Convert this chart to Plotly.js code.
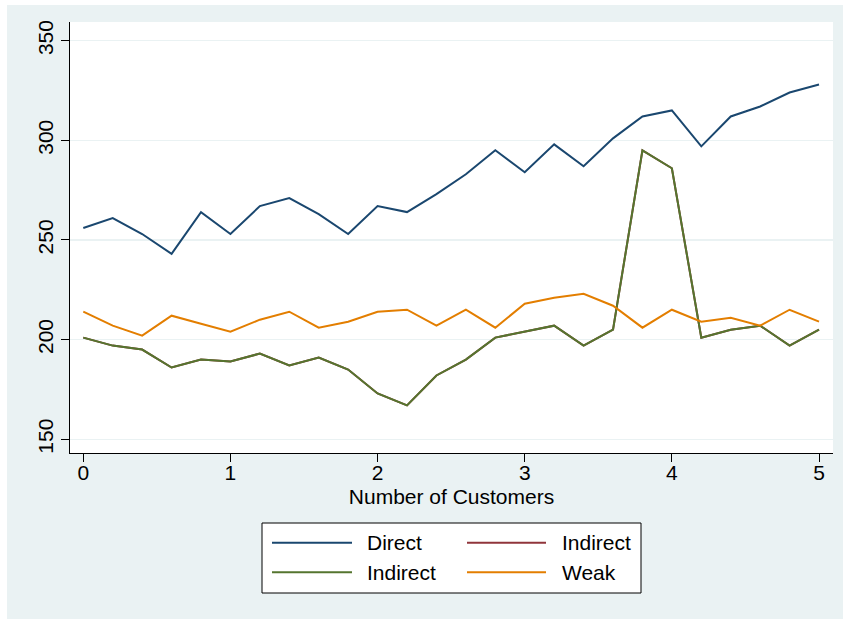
<!DOCTYPE html>
<html>
<head>
<meta charset="utf-8">
<script src="https://cdn.plot.ly/plotly-3.0.1.min.js"></script>
<style>html,body{margin:0;padding:0;background:#fff;}#chart{width:843px;height:619px;}</style>
</head>
<body>
<div id="chart"></div>
<script>
// ---- data ----
var customers = [0, 0.2, 0.4, 0.6, 0.8, 1.0, 1.2, 1.4, 1.6, 1.8, 2.0, 2.2, 2.4, 2.6, 2.8, 3.0, 3.2, 3.4, 3.6, 3.8, 4.0, 4.2, 4.4, 4.6, 4.8, 5.0];
var direct   = [256, 261, 253, 243, 264, 253, 267, 271, 263, 253, 267, 264, 273, 283, 295, 284, 298, 287, 301, 312, 315, 297, 312, 317, 324, 328];
var indirectA = [201, 197, 195, 186, 190, 189, 193, 187, 191, 185, 173, 167, 182, 190, 201, 204, 207, 197, 205, 295, 286, 201, 205, 207, 197, 205];
var indirectB = [201, 197, 195, 186, 190, 189, 193, 187, 191, 185, 173, 167, 182, 190, 201, 204, 207, 197, 205, 295, 286, 201, 205, 207, 197, 205];
var weak     = [214, 207, 202, 212, 208, 204, 210, 214, 206, 209, 214, 215, 207, 215, 206, 218, 221, 223, 217, 206, 215, 209, 211, 207, 215, 209];
var seriesNames = ["Direct", "Indirect", "Indirect", "Weak"];
var seriesColors = ["#1a476f", "#90353b", "#55752f", "#e37e00"];
var xTicks = [0, 1, 2, 3, 4, 5];
var yTicks = [150, 200, 250, 300, 350];

var FONT = "Liberation Sans, Arial, Helvetica, sans-serif";
var seriesData = [direct, indirectA, indirectB, weak];

var traces = seriesData.map(function (ys, i) {
  return {
    x: customers, y: ys, type: "scatter", mode: "lines", name: seriesNames[i],
    line: {color: seriesColors[i], width: 2}
  };
});

// plot area in pixels: left 70, right 833, top 22, bottom 453
var L = 70, R = 833, T = 22, B = 453, W = R - L, H = B - T;
function px(x) { return (x - L) / W; }
function py(y) { return (B - y) / H; }

var shapes = [
  // white strips outside the light background
  {type: "rect", xref: "paper", yref: "paper", x0: px(0), x1: px(843), y0: py(5), y1: py(0), fillcolor: "#ffffff", line: {width: 0}, layer: "below"},
  {type: "rect", xref: "paper", yref: "paper", x0: px(0), x1: px(7), y0: py(619), y1: py(0), fillcolor: "#ffffff", line: {width: 0}, layer: "below"},
  // legend box
  {type: "rect", xref: "paper", yref: "paper", x0: px(262), x1: px(641), y0: py(593), y1: py(523), fillcolor: "#ffffff", line: {color: "#000000", width: 1}, layer: "above"}
];
var annotations = [];
var cols = [[272, 352, 365], [467, 546, 560]];
var rows = [542.7, 572.3];
for (var i = 0; i < seriesNames.length; i++) {
  var c = cols[i % 2], r = rows[Math.floor(i / 2)];
  shapes.push({type: "line", xref: "paper", yref: "paper", x0: px(c[0]), x1: px(c[1]), y0: py(r), y1: py(r),
    line: {color: seriesColors[i], width: 2}, layer: "above"});
  annotations.push({xref: "paper", yref: "paper", x: px(c[2]), y: py(r), xanchor: "left", yanchor: "middle",
    text: seriesNames[i], showarrow: false, font: {family: FONT, size: 21, color: "#000000"}});
}

var layout = {
  width: 843, height: 619,
  margin: {l: L, r: 843 - R, t: T, b: 619 - B, pad: 0},
  paper_bgcolor: "#eaf2f3",
  plot_bgcolor: "#ffffff",
  showlegend: false,
  font: {family: FONT, size: 21, color: "#000000"},
  xaxis: {
    range: [-0.0903, 5.095], tickmode: "array", tickvals: xTicks, ticktext: xTicks.map(String),
    showgrid: false, zeroline: false, showline: true, linecolor: "#000000", linewidth: 1,
    ticks: "outside", ticklen: 8, tickcolor: "#000000", tickwidth: 1, ticklabelstandoff: -7,
    tickfont: {family: FONT, size: 21, color: "#000000"},
    title: {text: "Number of Customers", font: {family: FONT, size: 21, color: "#000000"}, standoff: 6},
    automargin: false
  },
  yaxis: {
    range: [143.1, 359.4], tickmode: "array", tickvals: yTicks, ticktext: yTicks.map(String),
    showgrid: true, gridcolor: "#eaf2f3", gridwidth: 1.5, zeroline: false,
    showline: true, linecolor: "#000000", linewidth: 1,
    ticks: "outside", ticklen: 8, tickcolor: "#000000", tickwidth: 1, tickangle: -90,
    tickfont: {family: FONT, size: 21, color: "#000000"},
    automargin: false
  },
  shapes: shapes,
  annotations: annotations
};

Plotly.newPlot("chart", traces, layout, {displayModeBar: false, staticPlot: true});
</script>
</body>
</html>
